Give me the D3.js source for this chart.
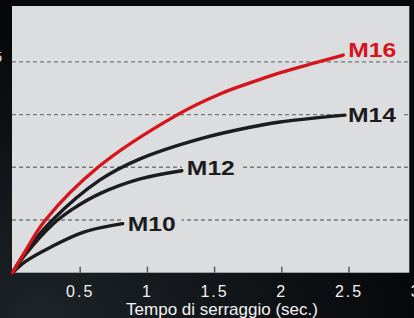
<!DOCTYPE html>
<html><head><meta charset="utf-8">
<script src="https://cdn.jsdelivr.net/npm/d3@7"></script>
<style>
html,body{margin:0;padding:0;background:#0b0d10;overflow:hidden;}
svg{display:block;}
</style></head>
<body>
<svg id="chart" width="414" height="318"></svg>
<script>
// ---- data (time in sec., torque in grid units) ----
const seriesNames = ["M10", "M12", "M14", "M16"];
const m10 = [[0,0],[0.1,0.22],[0.28,0.48],[0.53,0.77],[0.82,0.93]];
const m12 = [[0,0],[0.1,0.36],[0.3,0.92],[0.45,1.21],[0.65,1.5],[0.95,1.78],[1.26,1.935]];
const m14 = [[0,0],[0.1,0.4],[0.294,0.99],[0.651,1.76],[0.949,2.16],[1.395,2.54],[1.767,2.76],[1.99,2.86],[2.474,2.99]];
const m16 = [[0,0],[0.1,0.43],[0.242,0.99],[0.636,2.0],[1.222,2.99],[1.544,3.39],[1.767,3.6],[2.0,3.8],[2.263,3.99],[2.461,4.13]];
const xTicks = [0.5, 1, 1.5, 2, 2.5, 3];
const xTickLabels = ["0.5", "1", "1.5", "2", "2.5", "3"];
const yGrid = [1, 2, 3, 4];
const yTickLabels = ["5"];
const xTitle = "Tempo di serraggio (sec.)";

const seriesData = [m10, m12, m14, m16];
const colors = {M10:"#1c1c1e", M12:"#1c1c1e", M14:"#1c1c1e", M16:"#d6141c"};
const labelDy = {M10:7.5, M12:4.5, M14:7, M16:1.5};
const labelDx = {M10:5, M12:5, M14:3, M16:5};

const svg = d3.select("#chart");
const defs = svg.append("defs");
const grad = defs.append("radialGradient").attr("id","bg").attr("cx","0.1").attr("cy","1").attr("r","0.9");
grad.append("stop").attr("offset","0").attr("stop-color","#1d2328");
grad.append("stop").attr("offset","1").attr("stop-color","#07080a");
svg.append("rect").attr("width",414).attr("height",318).attr("fill","url(#bg)");

const x = d3.scaleLinear().domain([0,3]).range([12.5, 415.7]);
const y = d3.scaleLinear().domain([0,5.06]).range([272.7, 6]);

// plot area
svg.append("rect").attr("x",12).attr("y",6).attr("width",409.3-12).attr("height",272.7-6)
  .attr("fill","#dcdddf");

// gridlines
svg.append("g").selectAll("line").data(yGrid).join("line")
  .attr("x1",12).attr("x2",409.3)
  .attr("y1",d=>y(d)).attr("y2",d=>y(d))
  .attr("stroke","#77787a").attr("stroke-width",1.4).attr("stroke-dasharray","4,3");

// x ticks
const xAxis = d3.axisBottom(x).tickValues(xTicks).tickFormat((d,i)=>xTickLabels[i]).tickSize(0).tickPadding(0);
const ax = svg.append("g").attr("transform","translate(0,272.7)").call(xAxis);
ax.select(".domain").remove();
ax.selectAll(".tick line").remove();
ax.selectAll(".tick").append("line").attr("y1",-6).attr("y2",0).attr("stroke","#5a5b5e").attr("stroke-width",1.5);
ax.selectAll(".tick text").attr("fill","#f2f2f2").attr("y",24.3).attr("dy",null)
  .style("font-family","'Liberation Sans', Arial, sans-serif").style("font-size","16px").style("letter-spacing","2px");

// x title
svg.append("text").attr("x",222).attr("y",315.2).attr("text-anchor","middle")
  .attr("fill","#f2f2f2").style("font-family","'Liberation Sans', Arial, sans-serif").style("font-size","17px")
  .text(xTitle);

// y tick label fragment (cut off at the left edge, as in the reference)
svg.append("g").selectAll("text").data(yTickLabels).join("text")
  .attr("x",2).attr("y",y(yGrid[yGrid.length-1])+0.5).attr("text-anchor","end")
  .attr("fill","#e8e8e8").style("font-family","'Liberation Sans', Arial, sans-serif").style("font-size","14px")
  .text(d=>d);

// label positions
const labels = seriesNames.map((n,i)=>{
  const last = seriesData[i][seriesData[i].length-1];
  return {name:n, lx:x(last[0])+labelDx[n], ly:y(last[1])+labelDy[n]};
});

// background boxes behind labels to interrupt gridlines
svg.append("g").selectAll("rect").data(labels).join("rect")
  .attr("x",d=>d.lx-5).attr("y",d=>d.ly-16).attr("width",59).attr("height",18)
  .attr("fill","#dcdddf");

// curves
const line = d3.line().x(d=>x(d[0])).y(d=>y(d[1])).curve(d3.curveCatmullRom.alpha(0.5));
svg.append("g").selectAll("path").data(seriesData).join("path")
  .attr("d",line).attr("fill","none")
  .attr("stroke",(d,i)=>colors[seriesNames[i]]).attr("stroke-width",3.4).attr("stroke-linecap","round");

// labels
svg.append("g").selectAll("text").data(labels).join("text")
  .attr("x",d=>d.lx).attr("y",d=>d.ly)
  .attr("fill",d=>colors[d.name])
  .attr("textLength",48).attr("lengthAdjust","spacingAndGlyphs")
  .style("font-family","'Liberation Sans', Arial, sans-serif").style("font-weight","bold").style("font-size","20px")
  .text(d=>d.name);
</script>
</body></html>
